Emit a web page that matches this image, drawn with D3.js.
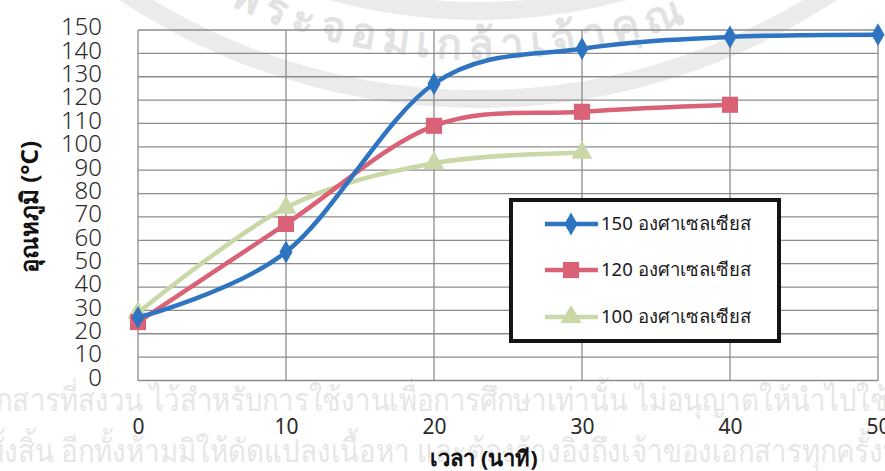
<!DOCTYPE html>
<html>
<head>
<meta charset="utf-8">
<script src="https://cdn.jsdelivr.net/npm/d3@7"></script>
<style>
  body { margin: 0; background: #fff; }
  svg { display: block; font-family: "Noto Sans", "DejaVu Sans", sans-serif; }
</style>
</head>
<body>
<svg width="885" height="471"></svg>
<script>
// data
const minutes = [0, 10, 20, 30, 40, 50];
const temp150 = [27, 55, 127, 142, 147, 148];
const temp120 = [25, 67, 109, 115, 118];
const temp100 = [29, 74, 93, 97.5];
const seriesNames = ["150 องศาเซลเซียส", "120 องศาเซลเซียส", "100 องศาเซลเซียส"];
const yTicks = d3.range(0, 151, 10);
const xTicks = [0, 10, 20, 30, 40, 50];

const svg = d3.select("svg");
const width = +svg.attr("width");
const height = +svg.attr("height");

const x = d3.scaleLinear().domain([0, 50]).range([138, 878]);
const y = d3.scaleLinear().domain([0, 150]).range([380.5, 30]);

// faint watermark behind everything
const wm = svg.append("g").attr("class", "watermark");
const cx = 478, cy = -541;
[640, 552].forEach(r => {
  wm.append("circle")
    .attr("cx", cx).attr("cy", cy).attr("r", r)
    .attr("fill", "none")
    .attr("stroke", "#ebebeb")
    .attr("stroke-width", 18);
});
const textR = 600;
wm.append("path")
  .attr("id", "sealArc")
  .attr("fill", "none")
  .attr("d", `M${cx - textR},${cy} A${textR},${textR} 0 0 0 ${cx + textR},${cy}`);
wm.append("text")
  .attr("font-size", 42)
  .attr("font-weight", "bold")
  .attr("fill", "#e2e2e2")
  .attr("letter-spacing", 7)
  .append("textPath")
  .attr("href", "#sealArc")
  .attr("startOffset", "49%")
  .attr("text-anchor", "middle")
  .text("พระจอมเกล้าเจ้าคุณ");

wm.append("text")
  .attr("x", -4).attr("y", 411)
  .attr("font-size", 32)
  .attr("fill", "#e6e6e6")
  .attr("textLength", 910)
  .attr("lengthAdjust", "spacingAndGlyphs")
  .text("กสารที่สงวน ไว้สำหรับการใช้งานเพื่อการศึกษาเท่านั้น ไม่อนุญาตให้นำไปใช้ป");
wm.append("text")
  .attr("x", -14).attr("y", 462)
  .attr("font-size", 32)
  .attr("fill", "#e6e6e6")
  .attr("textLength", 915)
  .attr("lengthAdjust", "spacingAndGlyphs")
  .text("ทั้งสิ้น อีกทั้งห้ามมิให้ดัดแปลงเนื้อหา และต้องอ้างอิงถึงเจ้าของเอกสารทุกครั้งที่");

// grid
const grid = svg.append("g").attr("stroke", "#8c8c8c").attr("stroke-width", 1.3);
grid.selectAll(".h").data(yTicks).join("line")
  .attr("x1", x(0)).attr("x2", x(50))
  .attr("y1", d => y(d)).attr("y2", d => y(d));
grid.selectAll(".v").data(xTicks).join("line")
  .attr("x1", d => x(d)).attr("x2", d => x(d))
  .attr("y1", y(0)).attr("y2", y(150));

// axes labels
const yAxis = svg.append("g")
  .attr("transform", `translate(${x(0)},0)`)
  .call(d3.axisLeft(y).tickValues(yTicks).tickSize(0).tickPadding(36));
yAxis.select(".domain").remove();
yAxis.selectAll("text")
  .attr("font-size", 24)
  .attr("font-family", "'Noto Sans', sans-serif")
  .attr("font-weight", 300)
  .attr("fill", "#2a2a2a")
  .attr("dy", "0.2em");

const xAxis = svg.append("g")
  .attr("transform", `translate(0,${y(0)})`)
  .call(d3.axisBottom(x).tickValues(xTicks).tickSize(0).tickPadding(53));
xAxis.select(".domain").remove();
xAxis.selectAll("text")
  .attr("font-size", 21)
  .attr("font-family", "'Noto Sans', sans-serif")
  .attr("fill", "#2a2a2a")
  .attr("dy", "0");

svg.append("text")
  .attr("x", 484).attr("y", 466)
  .attr("text-anchor", "middle")
  .attr("font-size", 22)
  .attr("font-weight", "bold")
  .attr("fill", "#111")
  .text("เวลา (นาที)");

svg.append("text")
  .attr("transform", "translate(38,207) rotate(-90)")
  .attr("text-anchor", "middle")
  .attr("font-size", 24)
  .attr("font-weight", "bold")
  .attr("fill", "#111")
  .text("อุณหภูมิ (°C)");

// series
const colors = ["#2f74c0", "#da6277", "#c9d8a6"];
const symbols = [d3.symbolDiamond, d3.symbolSquare, d3.symbolTriangle];
const symSizes = [150, 260, 190];
const allSeries = [temp150, temp120, temp100];

const line = d3.line()
  .x((d, i) => x(minutes[i]))
  .y(d => y(d))
  .curve(d3.curveCardinal.tension(0));

// draw back-to-front like the original: green, red, blue
[2, 1, 0].forEach(k => {
  const g = svg.append("g");
  g.append("path")
    .datum(allSeries[k])
    .attr("d", line)
    .attr("fill", "none")
    .attr("stroke", colors[k])
    .attr("stroke-width", 4.5);
  g.selectAll("path.mark")
    .data(allSeries[k])
    .join("path")
    .attr("class", "mark")
    .attr("transform", (d, i) => `translate(${x(minutes[i])},${y(d)})`)
    .attr("d", d3.symbol().type(symbols[k]).size(symSizes[k]))
    .attr("fill", colors[k]);
});

// legend
const legend = svg.append("g");
legend.append("rect")
  .attr("x", 511).attr("y", 200)
  .attr("width", 268).attr("height", 141)
  .attr("fill", "#fff")
  .attr("stroke", "#141414")
  .attr("stroke-width", 4);

const rowY = [224, 270, 317];
seriesNames.forEach((name, k) => {
  const row = legend.append("g").attr("transform", `translate(0,${rowY[k]})`);
  row.append("line")
    .attr("x1", 545).attr("x2", 598)
    .attr("stroke", colors[k])
    .attr("stroke-width", 4.5);
  row.append("path")
    .attr("transform", "translate(571,0)")
    .attr("d", d3.symbol().type(symbols[k]).size(symSizes[k]))
    .attr("fill", colors[k]);
  row.append("text")
    .attr("x", 601)
    .attr("dy", "0.35em")
    .attr("font-size", 18.5)
    .attr("fill", "#1a1a1a")
    .text(name);
});
</script>
</body>
</html>
